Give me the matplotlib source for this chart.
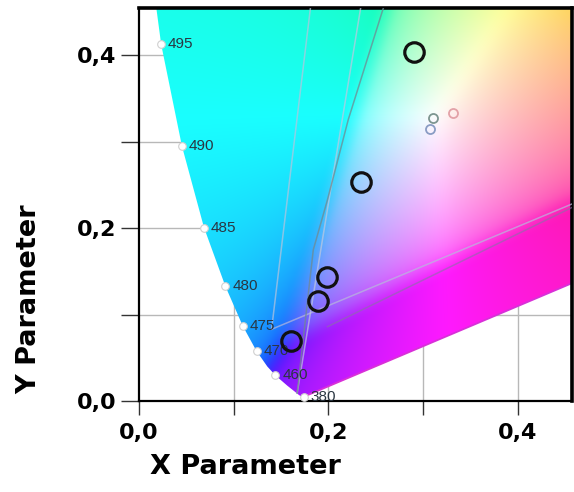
import numpy as np
import matplotlib.pyplot as plt
from matplotlib.patches import Polygon
from matplotlib.ticker import MultipleLocator, FuncFormatter

# CIE 1931 spectral locus (wavelength nm, x, y)
locus_nm = [380, 400, 420, 430, 440, 450, 460, 465, 470, 475, 480, 485, 490, 495,
            500, 505, 510, 520, 530, 540, 550, 560, 570, 580, 590, 600, 620, 640, 700]
locus_x = [0.1741, 0.1733, 0.1714, 0.1689, 0.1644, 0.1566, 0.1440, 0.1355, 0.1241, 0.1096,
           0.0913, 0.0687, 0.0454, 0.0235, 0.0082, 0.0039, 0.0139, 0.0743, 0.1547, 0.2296,
           0.3016, 0.3731, 0.4441, 0.5125, 0.5752, 0.6270, 0.6915, 0.7190, 0.7347]
locus_y = [0.0050, 0.0048, 0.0051, 0.0069, 0.0109, 0.0177, 0.0297, 0.0399, 0.0578, 0.0868,
           0.1327, 0.2007, 0.2950, 0.4127, 0.5384, 0.6548, 0.7502, 0.8338, 0.8059, 0.7543,
           0.6923, 0.6245, 0.5547, 0.4866, 0.4242, 0.3725, 0.3083, 0.2809, 0.2653]

# labelled wavelengths
label_nm = [495, 490, 485, 480, 475, 470, 460, 380]

# measured points (big black rings)
ring_x = [0.290, 0.234, 0.198, 0.189, 0.161]
ring_y = [0.404, 0.254, 0.144, 0.116, 0.070]

# small reference points near white
ref_x = [0.310, 0.307, 0.331]
ref_y = [0.328, 0.315, 0.333]
ref_colors = ['#7d9590', '#8a9cc4', '#e3a2a8']

# guide lines (x list, y list, colour, alpha)
guide_lines = [
    ([0.140, 0.181], [0.083, 0.455], '#b8c4dc', 0.7),
    ([0.140, 0.457], [0.083, 0.228], '#b8b8dc', 0.7),
    ([0.199, 0.457], [0.086, 0.224], '#8a70a8', 0.6),
    ([0.167, 0.234], [0.009, 0.455], '#c0c8e0', 0.7),
    ([0.167, 0.184, 0.199, 0.221, 0.258], [0.009, 0.175, 0.233, 0.326, 0.455], '#6f8a92', 0.75),
]


def smooth(img, w):
    # simple box blur along both image axes
    k = np.ones(w) / w
    pad = w // 2
    out = img.copy()
    for axis in (0, 1):
        padded = np.pad(out, [(pad, pad) if a == axis else (0, 0) for a in range(3)], mode='edge')
        out = np.apply_along_axis(lambda v: np.convolve(v, k, mode='valid'), axis, padded)
    return out


fig = plt.figure(figsize=(5.74, 4.92), dpi=100)
ax = fig.add_axes([0.242, 0.185, 0.7545, 0.799])
xmax, ymax = 0.457, 0.455
ax.set_xlim(0, xmax)
ax.set_ylim(0, ymax)

# grid under the colour fill
for v in [0.1, 0.2, 0.3, 0.4]:
    ax.axvline(v, color='#b8b8b8', lw=1, zorder=0)
    ax.axhline(v, color='#b8b8b8', lw=1, zorder=0)

# chromaticity colours (out-of-gamut values desaturated by adding white)
n = 300
gx, gy = np.meshgrid(np.linspace(0, xmax, n), np.linspace(0.001, ymax, n))
X = gx / gy
Y = np.ones_like(gx)
Z = (1 - gx - gy) / gy
R = 3.2406 * X - 1.5372 * Y - 0.4986 * Z
G = -0.9689 * X + 1.8758 * Y + 0.0415 * Z
B = 0.0557 * X - 0.2040 * Y + 1.0570 * Z
rgb = np.dstack([R, G, B])
rgb = rgb - np.minimum(rgb.min(axis=2, keepdims=True), 0)
rgb = rgb / rgb.max(axis=2, keepdims=True)
rgb = np.where(rgb <= 0.0031308, 12.92 * rgb, 1.055 * rgb ** (1 / 2.4) - 0.055)
rgb = np.clip(rgb, 0, 1) ** 0.8
rgb = 0.9 * rgb + 0.1  # slightly washed out like the source
rgb = np.clip(smooth(rgb, 15), 0, 1)

poly = Polygon(np.column_stack([locus_x, locus_y]), closed=True,
               facecolor='none', edgecolor='none', transform=ax.transData)
ax.add_patch(poly)
img = ax.imshow(rgb, origin='lower', extent=[0, xmax, 0.001, ymax],
                aspect='auto', interpolation='bilinear', zorder=1)
img.set_clip_path(poly)

# purple line edge
ax.plot([locus_x[0], locus_x[-1]], [locus_y[0], locus_y[-1]],
        color='#d830d8', lw=1.3, zorder=2)

for xs, ys, c, a in guide_lines:
    ax.plot(xs, ys, color=c, lw=1.1, alpha=a, zorder=3)

# wavelength markers and labels
for nm in label_nm:
    i = locus_nm.index(nm)
    ax.plot(locus_x[i], locus_y[i], 'o', ms=5.5, mfc='white', mec='#d0d0d0',
            mew=0.8, zorder=4)
    ax.annotate(str(nm), (locus_x[i], locus_y[i]), xytext=(5, 0),
                textcoords='offset points', va='center', ha='left',
                fontsize=11, color='#2a3642', family='Liberation Sans', zorder=5)

for x, y, c in zip(ref_x, ref_y, ref_colors):
    ax.plot(x, y, 'o', ms=6.5, mfc='none', mec=c, mew=1.3, zorder=5)

ax.plot(ring_x, ring_y, 'o', ms=14, mfc='none', mec='#111111', mew=2.3, zorder=6)

# axes styling
fmt = FuncFormatter(lambda v, p: f"{v:.1f}".replace('.', ','))
ax.xaxis.set_major_locator(MultipleLocator(0.2))
ax.xaxis.set_minor_locator(MultipleLocator(0.1))
ax.yaxis.set_major_locator(MultipleLocator(0.2))
ax.yaxis.set_minor_locator(MultipleLocator(0.1))
ax.xaxis.set_major_formatter(fmt)
ax.yaxis.set_major_formatter(fmt)
ax.tick_params(which='both', direction='out', length=10, width=1, color='#333333')
ax.tick_params(axis='y', which='both', length=13)
for lab in ax.get_xticklabels() + ax.get_yticklabels():
    lab.set_fontsize(16)
    lab.set_fontweight('bold')
ax.tick_params(axis='x', pad=6)
ax.tick_params(axis='y', pad=3)

for side in ['left', 'bottom']:
    ax.spines[side].set_linewidth(1.6)
for side in ['top', 'right']:
    ax.spines[side].set_linewidth(2.6)

ax.set_xlabel('X Parameter', fontsize=19.5, fontweight='bold')
ax.set_ylabel('Y Parameter', fontsize=19.5, fontweight='bold')
ax.xaxis.set_label_coords(0.247, -0.135)
ax.yaxis.set_label_coords(-0.222, 0.26)

fig.savefig('out.png', dpi=100)
